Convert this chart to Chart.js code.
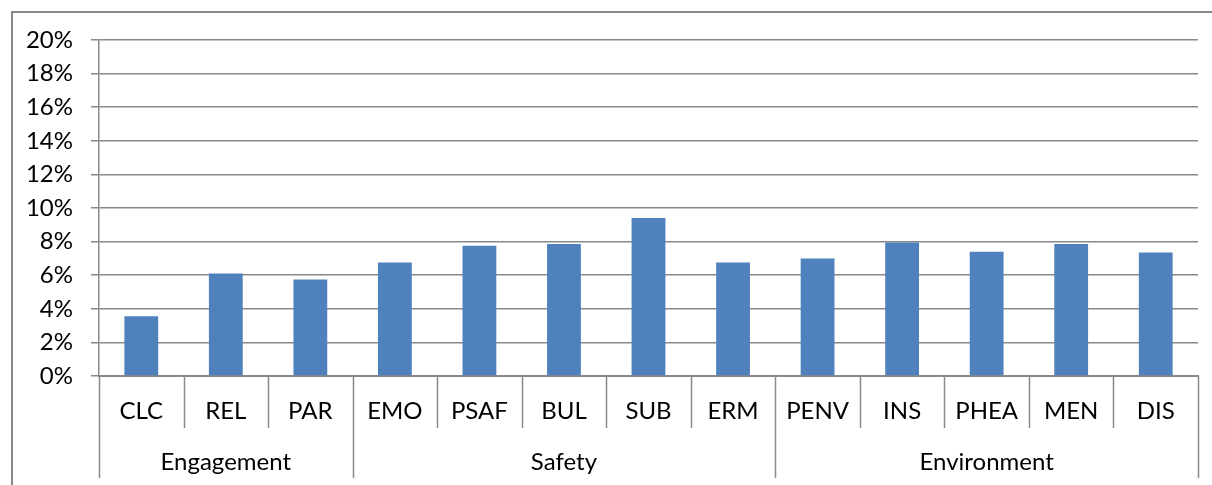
<!DOCTYPE html>
<html>
<head>
<meta charset="utf-8">
<script src="https://cdn.jsdelivr.net/npm/chart.js@4/dist/chart.umd.min.js"></script>
<style>
  html, body { margin: 0; padding: 0; background: #fff; }
  #wrap { width: 1212px; height: 485px; }
</style>
</head>
<body>
<div id="wrap"><canvas id="chart"></canvas></div>
<script>
// Chart data
const categories = ['CLC', 'REL', 'PAR', 'EMO', 'PSAF', 'BUL', 'SUB', 'ERM', 'PENV', 'INS', 'PHEA', 'MEN', 'DIS'];
const values = [3.55, 6.1, 5.75, 6.75, 7.75, 7.85, 9.4, 6.75, 7.0, 7.95, 7.4, 7.85, 7.35];
const groups = ['Engagement', 'Safety', 'Environment'];
const groupSizes = [3, 5, 5];
const yMin = 0, yMax = 20, yStep = 2;

const lineColor = '#898989';
const fontFamily = 'Lato, "Open Sans", sans-serif';

// Outer chart frame (partly cropped in the picture)
const framePlugin = {
    id: 'frame',
    beforeDraw(chart) {
        const c = chart.ctx;
        c.save();
        c.strokeStyle = lineColor;
        c.lineWidth = 2;
        c.beginPath();
        c.moveTo(12, chart.height + 2);
        c.lineTo(12, 12);
        c.lineTo(chart.width + 2, 12);
        c.stroke();
        c.restore();
    }
};

// Category separators and group labels below the x axis
const groupAxisPlugin = {
    id: 'groupAxis',
    afterDraw(chart) {
        const x = chart.scales.x;
        const c = chart.ctx;
        const n = categories.length;
        const step = x.getPixelForValue(1) - x.getPixelForValue(0);
        const edge = i => x.getPixelForValue(i) - step / 2;
        const top = x.top;

        const groupEdges = [0];
        groupSizes.forEach(s => groupEdges.push(groupEdges[groupEdges.length - 1] + s));

        c.save();
        c.strokeStyle = lineColor;
        c.lineWidth = 1.5;
        for (let i = 0; i <= n; i++) {
            const px = Math.round(edge(i)) + 0.5;
            const long = groupEdges.includes(i);
            c.beginPath();
            c.moveTo(px, top);
            c.lineTo(px, long ? top + 102 : top + 52);
            c.stroke();
        }

        c.fillStyle = '#000';
        c.font = '24px ' + fontFamily;
        c.textAlign = 'center';
        c.textBaseline = 'middle';
        groups.forEach((g, gi) => {
            const a = groupEdges[gi], b = groupEdges[gi + 1];
            const cx = (edge(a) + edge(b)) / 2;
            c.fillText(g, cx, top + 86);
        });
        c.restore();
    }
};

const ctx = document.getElementById('chart').getContext('2d');
const chart = new Chart(ctx, {
    type: 'bar',
    data: {
        labels: categories,
        datasets: [{
            data: values,
            backgroundColor: '#4F81BD',
            borderWidth: 0,
            barPercentage: 0.4,
            categoryPercentage: 1.0
        }]
    },
    options: {
        responsive: true,
        maintainAspectRatio: false,
        animation: false,
        layout: {padding: {left: 0, top: 40, right: 14, bottom: 0}},
        plugins: {
            legend: {display: false},
            tooltip: {enabled: false}
        },
        scales: {
            x: {
                grid: {display: false},
                border: {display: true, color: lineColor, width: 2},
                ticks: {
                    color: '#000',
                    font: {family: fontFamily, size: 24},
                    padding: 13,
                    maxRotation: 0,
                    autoSkip: false
                },
                afterFit: s => { s.height = 109; }
            },
            y: {
                min: yMin,
                max: yMax,
                grid: {color: lineColor, lineWidth: 1.5, tickLength: 8},
                border: {display: true, color: lineColor, width: 1.5},
                ticks: {
                    stepSize: yStep,
                    color: '#000',
                    padding: 18,
                    font: {family: fontFamily, size: 24},
                    callback: v => v + '%'
                },
                afterFit: s => { s.width = 99; }
            }
        }
    },
    plugins: [framePlugin, groupAxisPlugin]
});
</script>
</body>
</html>
